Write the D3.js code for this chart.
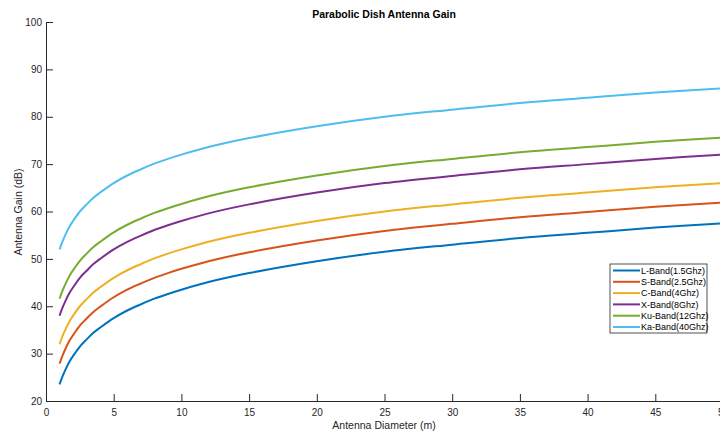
<!DOCTYPE html>
<html>

<head>
    <title>Parabolic Dish Antenna Gain</title>
    <script src="https://d3js.org/d3.v7.min.js"></script>
    <meta http-equiv="Content-Type" content="text/html; charset=utf-8">
    <style>
        body { margin: 0; background: #fff; }
        text { font-family: "Liberation Sans", Arial, sans-serif; }
    </style>
</head>

<body>
    <script>
        // antenna diameters (m) where the curves were read
        const diameters = [1, 1.1, 1.25, 1.5, 1.75, 2, 2.5, 3, 3.5, 4, 5, 6, 7, 8, 9, 10, 12, 15, 20, 25, 30, 35, 40, 45, 50];

        // gain (dB) of each band at those diameters
        const lBand = [23.5, 24.3, 25.4, 27.0, 28.4, 29.5, 31.5, 33.0, 34.4, 35.5, 37.5, 39.1, 40.4, 41.6, 42.6, 43.5, 45.1, 47.0, 49.5, 51.5, 53.0, 54.4, 55.5, 56.6, 57.5];
        const sBand = [27.9, 28.7, 29.8, 31.4, 32.8, 33.9, 35.9, 37.4, 38.8, 39.9, 41.9, 43.5, 44.8, 46.0, 47.0, 47.9, 49.5, 51.4, 53.9, 55.9, 57.4, 58.8, 59.9, 61.0, 61.9];
        const cBand = [32.0, 32.8, 33.9, 35.5, 36.9, 38.0, 40.0, 41.5, 42.9, 44.0, 46.0, 47.6, 48.9, 50.1, 51.1, 52.0, 53.6, 55.5, 58.0, 60.0, 61.5, 62.9, 64.0, 65.1, 66.0];
        const xBand = [38.0, 38.8, 39.9, 41.5, 42.9, 44.0, 46.0, 47.5, 48.9, 50.0, 52.0, 53.6, 54.9, 56.1, 57.1, 58.0, 59.6, 61.5, 64.0, 66.0, 67.5, 68.9, 70.0, 71.1, 72.0];
        const kuBand = [41.6, 42.4, 43.5, 45.1, 46.5, 47.6, 49.6, 51.1, 52.5, 53.6, 55.6, 57.2, 58.5, 59.7, 60.7, 61.6, 63.2, 65.1, 67.6, 69.6, 71.1, 72.5, 73.6, 74.7, 75.6];
        const kaBand = [52.0, 52.8, 53.9, 55.5, 56.9, 58.0, 60.0, 61.5, 62.9, 64.0, 66.0, 67.6, 68.9, 70.1, 71.1, 72.0, 73.6, 75.5, 78.0, 80.0, 81.5, 82.9, 84.0, 85.1, 86.0];

        const seriesNames = ["L-Band(1.5Ghz)", "S-Band(2.5Ghz)", "C-Band(4Ghz)", "X-Band(8Ghz)", "Ku-Band(12Ghz)", "Ka-Band(40Ghz)"];
        const seriesValues = [lBand, sBand, cBand, xBand, kuBand, kaBand];
        const colors = ["#0072BD", "#D95319", "#EDB120", "#7E2F8E", "#77AC30", "#4DBEEE"];

        const xTicks = [0, 5, 10, 15, 20, 25, 30, 35, 40, 45, 50];
        const yTicks = [20, 30, 40, 50, 60, 70, 80, 90, 100];

        const width = 720;
        const height = 431;
        const axisColor = "#262626";

        const svg = d3.select("body")
            .append("svg")
            .attr("width", width)
            .attr("height", height);

        // scales (the right end of the plot runs past the window)
        const xScale = d3.scaleLinear().domain([0, 50]).range([46, 723]);
        const yScale = d3.scaleLinear().domain([20, 100]).range([401, 22]);

        // x axis, ticks pointing inward
        const xAxis = svg.append("g")
            .attr("transform", `translate(0, ${yScale(20)})`)
            .call(d3.axisBottom(xScale).tickValues(xTicks).tickSizeInner(-7).tickSizeOuter(0).tickPadding(8));

        // y axis, ticks pointing inward
        const yAxis = svg.append("g")
            .attr("transform", `translate(${xScale(0)}, 0)`)
            .call(d3.axisLeft(yScale).tickValues(yTicks).tickSizeInner(-7).tickSizeOuter(0).tickPadding(4));

        [xAxis, yAxis].forEach((ax) => {
            ax.select(".domain").attr("stroke", axisColor).attr("stroke-width", 1);
            ax.selectAll(".tick line").attr("stroke", axisColor).attr("stroke-width", 1);
            ax.selectAll(".tick text")
                .attr("fill", axisColor)
                .attr("font-size", 10)
                .attr("font-family", "Liberation Sans, Arial, sans-serif");
        });

        // lines
        const line = d3.line()
            .x((d) => xScale(d[0]))
            .y((d) => yScale(d[1]))
            .curve(d3.curveCatmullRom.alpha(0.5));

        svg.selectAll(".band")
            .data(seriesValues)
            .enter()
            .append("path")
            .attr("class", "band")
            .attr("fill", "none")
            .attr("stroke", (d, i) => colors[i])
            .attr("stroke-width", 2)
            .attr("d", (vals) => line(vals.map((v, j) => [diameters[j], v])));

        // title and axis labels
        svg.append("text")
            .attr("x", 384)
            .attr("y", 18)
            .attr("text-anchor", "middle")
            .attr("font-size", 10.5)
            .attr("font-weight", "bold")
            .attr("fill", "#000")
            .text("Parabolic Dish Antenna Gain");

        svg.append("text")
            .attr("x", 384)
            .attr("y", 429)
            .attr("text-anchor", "middle")
            .attr("font-size", 10.5)
            .attr("fill", axisColor)
            .text("Antenna Diameter (m)");

        svg.append("text")
            .attr("transform", "translate(22, 212) rotate(-90)")
            .attr("text-anchor", "middle")
            .attr("font-size", 10.5)
            .attr("fill", axisColor)
            .text("Antenna Gain (dB)");

        // legend
        const legend = svg.append("g").attr("transform", "translate(610, 264)");

        legend.append("rect")
            .attr("x", 0)
            .attr("y", 0)
            .attr("width", 97)
            .attr("height", 69)
            .attr("fill", "#fff")
            .attr("stroke", axisColor)
            .attr("stroke-width", 0.8);

        const rows = legend.selectAll(".legend-row")
            .data(seriesNames)
            .enter()
            .append("g")
            .attr("class", "legend-row")
            .attr("transform", (d, i) => `translate(0, ${6.5 + i * 11.3})`);

        rows.append("line")
            .attr("x1", 3)
            .attr("x2", 30)
            .attr("stroke", (d, i) => colors[i])
            .attr("stroke-width", 2);

        rows.append("text")
            .attr("x", 31)
            .attr("dy", "0.35em")
            .attr("font-size", 9)
            .attr("fill", "#000")
            .text((d) => d);
    </script>
</body>

</html>
